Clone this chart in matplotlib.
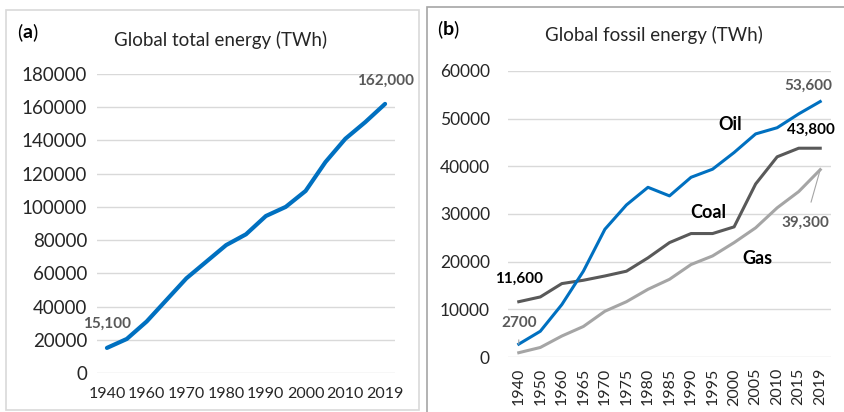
import matplotlib
matplotlib.use("Agg")
import matplotlib.pyplot as plt
from matplotlib.patches import Rectangle

years = ["1940", "1950", "1960", "1965", "1970", "1975", "1980", "1985",
         "1990", "1995", "2000", "2005", "2010", "2015", "2019"]
total = [15100, 20500, 31000, 44000, 57000, 67000, 77000, 83500,
         94500, 100000, 109600, 127000, 141000, 151000, 162000]
oil = [2700, 5400, 11000, 18000, 26800, 31900, 35600, 33800,
       37700, 39400, 42900, 46800, 48100, 51000, 53600]
coal = [11600, 12600, 15400, 16100, 17000, 18000, 20800, 24000,
        25900, 25900, 27300, 36300, 42000, 43800, 43800]
gas = [900, 2000, 4400, 6400, 9600, 11600, 14200, 16300,
       19400, 21200, 24000, 27100, 31300, 34700, 39300]

W, H = 844, 412
plt.rcParams['font.family'] = ['Lato', 'DejaVu Sans']
fig = plt.figure(figsize=(W / 100, H / 100), dpi=100)


def px_axes(x0, x1, ytop, ybot):
    return fig.add_axes([x0 / W, 1 - ybot / H, (x1 - x0) / W, (ybot - ytop) / H])


def style(ax, ymax, step, ysize, ypad):
    ax.set_xlim(-0.5, len(years) - 0.5)
    ax.set_ylim(0, ymax)
    ax.set_yticks(range(0, ymax + 1, step))
    ax.grid(axis="y", color="#D9D9D9", lw=1)
    ax.set_axisbelow(True)
    for s in ax.spines.values():
        s.set_visible(False)
    ax.tick_params(length=0, colors="#262626")
    ax.tick_params(axis="y", labelsize=ysize, pad=ypad)


def label(ax, text, pt, off, color, **kw):
    ax.annotate(text, pt, xytext=off, textcoords="offset pixels", ha="center",
                va="center", fontsize=11, fontweight="bold", color=color, **kw)


def panel_tag(ax, x0, y0, letter):
    # "(x)" with only the letter in bold
    t1 = fig.text(x0 / W, 1 - y0 / H, "(", ha="left", va="baseline", fontsize=14)
    t2 = ax.annotate(letter, xy=(1, 0), xycoords=t1, ha="left", va="bottom",
                     fontsize=14, fontweight="bold", annotation_clip=False)
    ax.annotate(")", xy=(1, 0), xycoords=t2, ha="left", va="bottom",
                fontsize=14, annotation_clip=False)


# panel borders
fig.patches.append(Rectangle((6 / W, 1 - 410 / H), 413 / W, 400 / H,
                             transform=fig.transFigure, fill=False,
                             ec="#D9D9D9", lw=1.2))
fig.patches.append(Rectangle((427 / W, 1 - 420 / H), 420 / W, 413 / H,
                             transform=fig.transFigure, fill=False,
                             ec="#A6A6A6", lw=1.2))

x = list(range(len(years)))

# (a) total energy
ax1 = px_axes(97, 395, 74, 373)
ax1.plot(x, total, color="#0070C0", lw=3, solid_capstyle="round")
style(ax1, 180000, 20000, 13.5, 7)
ax1.set_xticks(x[::2])
ax1.set_xticklabels(years[::2], fontsize=11.5)
ax1.tick_params(axis="x", pad=10)
label(ax1, "15,100", (x[0], total[0]), (0, 24), "#595959")
label(ax1, "162,000", (x[-1], total[-1]), (0, 23), "#595959")
fig.text(221 / W, 1 - 40 / H, "Global total energy (TWh)", ha="center", va="center",
         fontsize=13.5, color="#262626")
panel_tag(ax1, 17, 38, "a")

# (b) fossil energy
ax2 = px_axes(508, 831, 71, 357)
ax2.plot(x, gas, color="#A5A5A5", lw=2.2)
ax2.plot(x, coal, color="#595959", lw=2.2)
ax2.plot(x, oil, color="#0070C0", lw=2.2)
style(ax2, 60000, 10000, 12.5, 13)
ax2.set_xticks(x)
ax2.set_xticklabels(years, rotation=90, fontsize=11.5)
ax2.tick_params(axis="x", pad=8)

fig.text(730 / W, 1 - 125 / H, "Oil", ha="center", va="center", fontsize=13, fontweight="bold")
fig.text(708 / W, 1 - 213 / H, "Coal", ha="center", va="center", fontsize=13, fontweight="bold")
fig.text(757 / W, 1 - 258 / H, "Gas", ha="center", va="center", fontsize=13, fontweight="bold")

label(ax2, "53,600", (x[-1], oil[-1]), (-12, 16), "#595959")
label(ax2, "43,800", (x[-1], coal[-1]), (-9, 18), "black")
label(ax2, "11,600", (x[0], coal[0]), (0, 23), "black")
label(ax2, "2700", (x[0], oil[0]), (0, 21), "#595959",
      arrowprops=dict(arrowstyle="-", color="#A5A5A5", lw=0.8, shrinkA=5, shrinkB=0))
label(ax2, "39,300", (x[-1], gas[-1]), (-15, -53), "#595959",
      arrowprops=dict(arrowstyle="-", color="#A5A5A5", lw=0.8, shrinkA=8, shrinkB=0))
fig.text(654 / W, 1 - 35 / H, "Global fossil energy (TWh)", ha="center", va="center",
         fontsize=13.5, color="#262626")
panel_tag(ax2, 437, 35, "b")

fig.savefig("out.png", dpi=100)
